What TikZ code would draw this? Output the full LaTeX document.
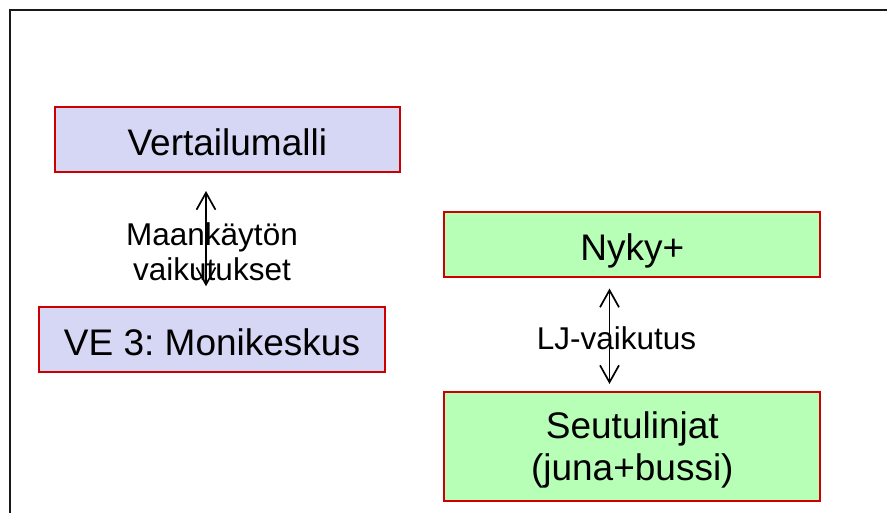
\documentclass[tikz,border=0pt]{standalone}
\usepackage{fontspec}
\setmainfont{Liberation Sans}
\usepackage{xcolor}
\usetikzlibrary{
arrows.meta,
positioning
}
\definecolor{boxred}{RGB}{204,0,0}
\definecolor{lavender}{RGB}{214,214,245}
\definecolor{mintgreen}{RGB}{183,255,183}
\frenchspacing

\begin{document}
\begin{tikzpicture}[
    x=1pt, y=-1pt,
    >={Straight Barb[length=17pt,width=19pt]},
    frame/.style={draw=black!90, line width=2.4pt},
    box/.style={draw=boxred, line width=2pt, inner sep=0pt, align=center,
                font=\fontsize{37}{42}\selectfont},
    one line/.style={text height=42pt, text depth=9pt},
    blue box/.style={box, one line, fill=lavender, minimum width=345.5pt, minimum height=65pt},
    green box/.style={box, fill=mintgreen, minimum width=376pt},
    rel/.style={midway, align=center, font=\fontsize{31.5}{35}\selectfont},
    link/.style={<->, line width=1.7pt}
  ]
  \useasboundingbox (0,0) rectangle (887,512);
  \draw[frame] (9.7,540) -- (9.7,9.7) -- (920,9.7);

  \node[blue box] (Vert) at (227.3,139) {Vertailumalli};
  \node[blue box] (VE) at (212,339.2) {VE 3: Monikeskus};
  \node[green box, one line, minimum height=65pt] (Nyky) at (632.3,244) {Nyky+};
  \node[green box, text depth=-8pt, minimum height=109pt] (Seutu) at (632.3,446.5) {Seutulinjat\\(juna+bussi)};

  \coordinate (lx) at (206,0);
  \coordinate (rx) at (609.5,0);
  \draw[link, shorten <=18.5pt, shorten >=19.5pt] (Vert.south -| lx) to
    node[rel, xshift=6pt, yshift=-12.5pt] {Maankäytön\\vaikutukset} (VE.north -| lx);
  \draw[link, shorten <=11pt, shorten >=7pt] (Nyky.south -| rx) to
    node[rel, xshift=7pt, yshift=-4pt] {LJ-vaikutus} (Seutu.north -| rx);
\end{tikzpicture}
\end{document}
